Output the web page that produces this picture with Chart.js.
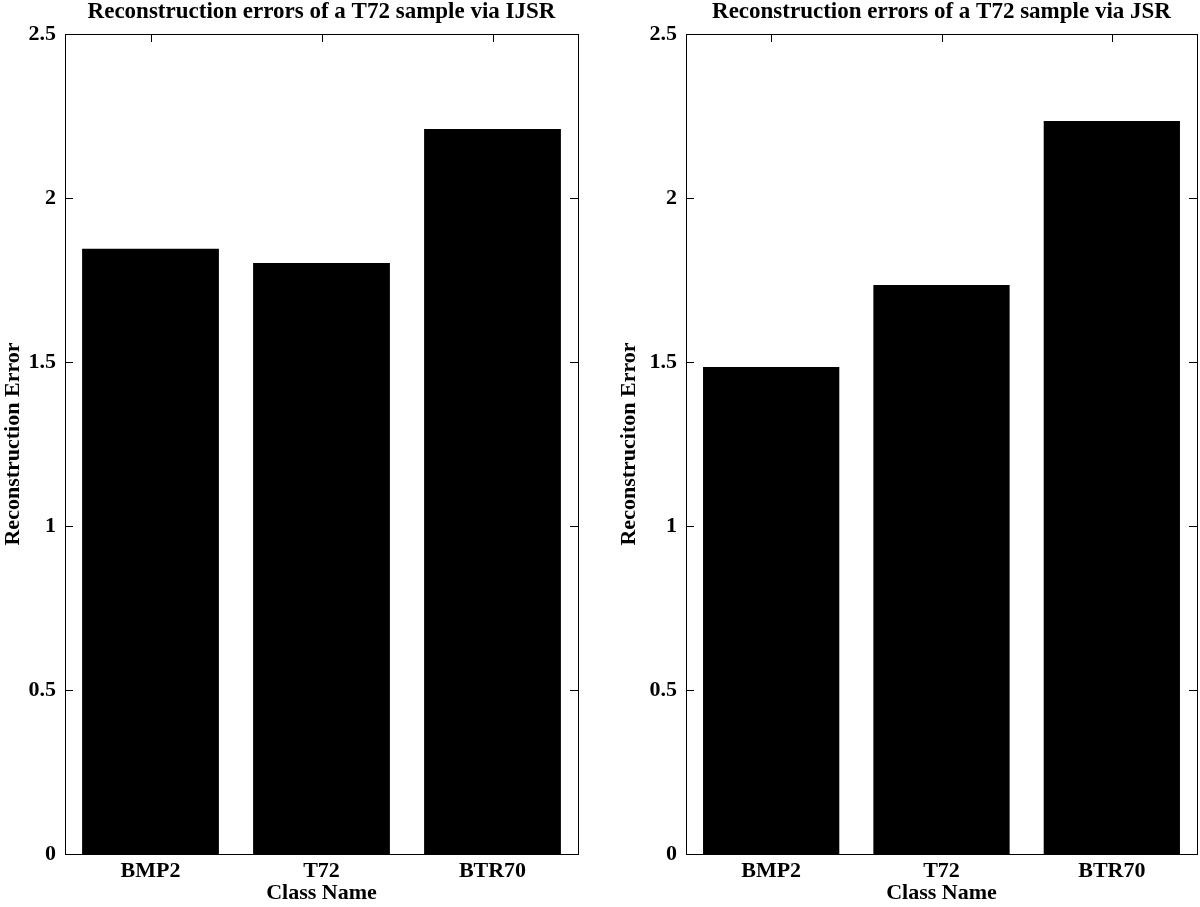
<!DOCTYPE html>
<html>
<head>
	<meta charset="utf-8">
	<title>Reconstruction errors of a T72 sample</title>
	<script src="https://cdn.jsdelivr.net/npm/chart.js@4.4.0/dist/chart.umd.min.js"></script>
	<style>
		html, body { margin: 0; padding: 0; background: #fff; }
		.panel { position: absolute; top: 0; height: 907px; }
		#left { left: 0; width: 600px; }
		#right { left: 600px; width: 600px; }
	</style>
</head>
<body>
<div class="panel" id="left"><canvas id="ijsr"></canvas></div>
<div class="panel" id="right"><canvas id="jsr"></canvas></div>
<script>
	const classNames = ['BMP2', 'T72', 'BTR70'];
	const ijsrErrors = [1.845, 1.802, 2.210];
	const jsrErrors = [1.485, 1.735, 2.235];
	const yTicks = [0, 0.5, 1, 1.5, 2, 2.5];

	const FONT = 'Liberation Serif, Times New Roman, serif';

	// box around the plot with inward ticks on all four sides, title centred on the plot
	const frame = {
		id: 'frame',
		afterDraw(chart, args, opts) {
			const ctx = chart.ctx;
			const a = chart.chartArea;
			const x = chart.scales.x, y = chart.scales.y;
			const len = 8;
			ctx.save();
			ctx.strokeStyle = '#000';
			ctx.lineWidth = 1;
			ctx.beginPath();
			yTicks.forEach(v => {
				const py = Math.round(y.getPixelForValue(v)) + 0.5;
				ctx.moveTo(a.left, py); ctx.lineTo(a.left + len, py);
				ctx.moveTo(a.right, py); ctx.lineTo(a.right - len, py);
			});
			classNames.forEach((c, i) => {
				const px = Math.round(x.getPixelForTick(i)) + 0.5;
				ctx.moveTo(px, a.bottom); ctx.lineTo(px, a.bottom - len);
				ctx.moveTo(px, a.top); ctx.lineTo(px, a.top + len);
			});
			ctx.stroke();
			ctx.strokeRect(Math.round(a.left) + 0.5, Math.round(a.top) + 0.5,
				Math.round(a.right - a.left), Math.round(a.bottom - a.top));

			ctx.fillStyle = '#000';
			ctx.font = 'bold 23px ' + FONT;
			ctx.textAlign = 'center';
			ctx.textBaseline = 'alphabetic';
			ctx.fillText(opts.text, (a.left + a.right) / 2, 18);
			ctx.restore();
		}
	};

	function makeChart(id, title, yTitle, values, pad, yWidth) {
		return new Chart(document.getElementById(id), {
			type: 'bar',
			data: {
				labels: classNames,
				datasets: [{
					data: values,
					backgroundColor: '#000',
					borderWidth: 0,
					barPercentage: 0.8,
					categoryPercentage: 1.0
				}]
			},
			options: {
				responsive: true,
				maintainAspectRatio: false,
				animation: false,
				layout: { padding: pad },
				plugins: {
					legend: { display: false },
					tooltip: { enabled: false },
					title: { display: false },
					frame: { text: title }
				},
				scales: {
					x: {
						grid: { display: false, drawTicks: false },
						border: { display: false },
						ticks: { color: '#000', padding: 4, font: { family: FONT, size: 22, weight: 'bold' } },
						title: {
							display: true,
							text: 'Class Name',
							color: '#000',
							padding: { top: 0, bottom: 0 },
							font: { family: FONT, size: 22, weight: 'bold' }
						},
						afterFit(scale) { scale.height = 53; }
					},
					y: {
						min: 0,
						max: 2.5,
						grid: { display: false, drawTicks: false },
						border: { display: false },
						afterBuildTicks(scale) { scale.ticks = yTicks.map(v => ({ value: v })); },
						ticks: {
							color: '#000',
							padding: 9,
							font: { family: FONT, size: 22, weight: 'bold' },
							callback: v => String(v)
						},
						title: {
							display: true,
							text: yTitle,
							color: '#000',
							padding: 0,
							font: { family: FONT, size: 22, weight: 'bold' }
						},
						afterFit(scale) { scale.width = yWidth; }
					}
				}
			},
			plugins: [frame]
		});
	}

	makeChart('ijsr', 'Reconstruction errors of a T72 sample via IJSR', 'Reconstruction Error',
		ijsrErrors, { left: 0, right: 22, top: 34, bottom: 0 }, 65);
	makeChart('jsr', 'Reconstruction errors of a T72 sample via JSR', 'Reconstruciton Error',
		jsrErrors, { left: 16, right: 3, top: 34, bottom: 0 }, 70);
</script>
</body>
</html>
